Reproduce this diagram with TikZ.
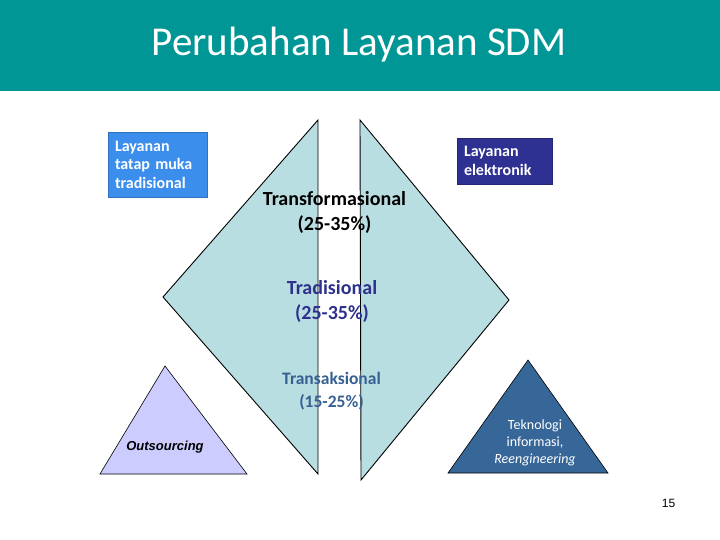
\documentclass[tikz,border=0pt]{standalone}
\usepackage{fontspec}
\setmainfont{Carlito}
\newfontfamily\arialf{Liberation Sans}
\definecolor{headteal}{RGB}{0,150,150}
\definecolor{diafill}{RGB}{185,222,226}
\definecolor{lboxblue}{RGB}{60,142,236}
\definecolor{rboxblue}{RGB}{46,49,146}
\definecolor{tradblue}{RGB}{46,49,140}
\definecolor{transblue}{RGB}{55,96,146}
\definecolor{lavender}{RGB}{204,204,255}
\definecolor{steel}{RGB}{55,103,153}
\tikzset{
  shapeline/.style={draw=black, line width=0.9pt, line join=miter},
  boxtext/.style={text=white, font=\fontsize{16}{18.5}\selectfont\bfseries, align=left, inner xsep=7pt, inner ysep=0pt},
  midtext/.style={align=center, inner sep=0pt}
}
\begin{document}
\begin{tikzpicture}[x=1pt,y=-1pt]
\useasboundingbox (0,0) rectangle (720,540);
% header
\fill[headteal] (0,0) rectangle (720,91);
\node[text=white, font=\fontsize{41}{48}\selectfont, inner sep=0pt] (title) at (359,45) {Perubahan Layanan SDM};
% half diamonds
\filldraw[fill=diafill, shapeline] (318,120) -- (163,297) -- (318,474) -- cycle;
\filldraw[fill=diafill, shapeline] (360,120) -- (509,300) -- (361,480) -- cycle;
% boxes
\node[fill=lboxblue, draw=lboxblue!80!black, line width=0.5pt, minimum width=99pt, minimum height=65pt, text width=85pt, boxtext] (lbox) at (157.5,164.5) {Layanan\\tatap muka\\tradisional};
\node[fill=rboxblue, draw=rboxblue!80!black, line width=0.5pt, minimum width=95pt, minimum height=46pt, text width=81pt, boxtext] (rbox) at (504.5,161) {Layanan\\elektronik};
% middle texts
\node[midtext, font=\fontsize{20}{25}\selectfont\bfseries] (transf) at (334.5,212) {Transformasional\\(25-35\%)};
\node[midtext, text=tradblue, font=\fontsize{20}{25}\selectfont\bfseries] (trad) at (332,301) {Tradisional\\(25-35\%)};
\node[midtext, text=transblue, font=\fontsize{17.5}{23}\selectfont\bfseries] (transa) at (331.5,391) {Transaksional\\(15-25\%)};
% bottom triangles
\filldraw[fill=lavender, shapeline, line width=0.6pt] (165,366) -- (247,474) -- (100,474) -- cycle;
\node[inner sep=0pt, font=\arialf\fontsize{13}{15}\selectfont\bfseries\itshape] (outs) at (165,447) {Outsourcing};
\filldraw[fill=steel, shapeline, line width=0.6pt] (528,360) -- (608,473) -- (448,473) -- cycle;
\node[midtext, text=white, font=\fontsize{14}{17}\selectfont] (tek) at (535,443) {Teknologi\\informasi,\\\textit{Reengineering}};
% page number
\node[inner sep=0pt, font=\arialf\fontsize{12}{14}\selectfont] (pg) at (668.5,503) {15};
\end{tikzpicture}
\end{document}
